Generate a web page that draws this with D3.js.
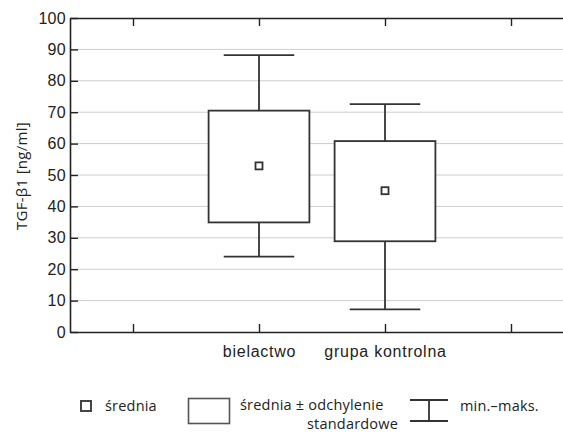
<!DOCTYPE html>
<html>
<head>
<meta charset="utf-8">
<script src="https://cdn.jsdelivr.net/npm/d3@7"></script>
<style>
  body { margin: 0; background: #fff; }
  svg { display: block; font-family: "Open Sans", sans-serif; }
  .grid line { stroke: #cdcdcd; stroke-width: 1; }
  .axis path, .axis line { stroke: #222; }
  .axis text { fill: #222; font-size: 16px; }
  .mark { fill: #fff; stroke: #333; stroke-width: 1.8; }
  .whisker { stroke: #333; stroke-width: 1.8; }
</style>
</head>
<body>
<svg width="563" height="432"></svg>
<script>
// values
const categories = ["bielactwo", "grupa kontrolna"];
const means   = [52.9, 45.0];
const sdLow   = [34.9, 28.9];
const sdHigh  = [70.5, 60.8];
const mins    = [24.0, 7.2];
const maxs    = [88.2, 72.6];
const yTicks  = [0, 10, 20, 30, 40, 50, 60, 70, 80, 90, 100];

// empty slots left and right of the groups
const slots = ["_l", ...categories, "_r"];

const svg = d3.select("svg");
const plotL = 70, plotT = 18, plotB = 332, plotR = 574;

const x = d3.scalePoint().domain(slots).range([plotL, plotR]).padding(0.5);
const y = d3.scaleLinear().domain([0, 100]).range([plotB, plotT]);
const step = x.step();

// grid
svg.append("g").attr("class", "grid")
  .selectAll("line")
  .data(yTicks.filter(d => d > 0 && d < 100))
  .enter().append("line")
  .attr("x1", plotL).attr("x2", plotR)
  .attr("y1", d => y(d)).attr("y2", d => y(d));

// axes, ticks pointing inwards
const yAxis = svg.append("g").attr("class", "axis")
  .attr("transform", `translate(${plotL},0)`)
  .call(d3.axisLeft(y).tickValues(yTicks).tickSizeInner(-8).tickSizeOuter(0).tickPadding(4));
yAxis.select(".domain").attr("stroke-width", 1.6);
yAxis.selectAll(".tick line").attr("stroke-width", 1.4);
yAxis.selectAll(".tick text").attr("letter-spacing", 0.3);

const xFmt = d => categories.includes(d) ? d : "";
const xAxis = svg.append("g").attr("class", "axis")
  .attr("transform", `translate(0,${plotB})`)
  .call(d3.axisBottom(x).tickSizeInner(-8).tickSizeOuter(0).tickPadding(14).tickFormat(xFmt));
xAxis.select(".domain").attr("stroke-width", 1.6);
xAxis.selectAll(".tick line").attr("stroke-width", 1.4);
xAxis.selectAll(".tick text").attr("letter-spacing", 0.75);

const xTop = svg.append("g").attr("class", "axis")
  .attr("transform", `translate(0,${plotT})`)
  .call(d3.axisTop(x).tickSizeInner(-8).tickSizeOuter(0).tickFormat(""));
xTop.select(".domain").attr("stroke-width", 1.6);
xTop.selectAll(".tick line").attr("stroke-width", 1.4);

// y label
svg.append("text")
  .attr("transform", `translate(27,176) rotate(-90)`)
  .attr("text-anchor", "middle")
  .attr("font-size", 15)
  .attr("letter-spacing", 0.3)
  .attr("fill", "#222")
  .text("TGF-β1 [ng/ml]");

// boxes and whiskers
const boxW = step * 0.8, capW = step * 0.56;
const groups = svg.append("g").selectAll("g")
  .data(categories)
  .enter().append("g");

groups.append("line").attr("class", "whisker")
  .attr("x1", d => x(d)).attr("x2", d => x(d))
  .attr("y1", (d, i) => y(maxs[i])).attr("y2", (d, i) => y(mins[i]));
groups.append("line").attr("class", "whisker")
  .attr("x1", d => x(d) - capW / 2).attr("x2", d => x(d) + capW / 2)
  .attr("y1", (d, i) => y(maxs[i])).attr("y2", (d, i) => y(maxs[i]));
groups.append("line").attr("class", "whisker")
  .attr("x1", d => x(d) - capW / 2).attr("x2", d => x(d) + capW / 2)
  .attr("y1", (d, i) => y(mins[i])).attr("y2", (d, i) => y(mins[i]));
groups.append("rect").attr("class", "mark")
  .attr("x", d => x(d) - boxW / 2).attr("width", boxW)
  .attr("y", (d, i) => y(sdHigh[i]))
  .attr("height", (d, i) => y(sdLow[i]) - y(sdHigh[i]));
groups.append("rect").attr("class", "mark")
  .attr("x", d => x(d) - 3.5).attr("width", 7)
  .attr("y", (d, i) => y(means[i]) - 3.5).attr("height", 7)
  .attr("stroke-width", 1.6);

// legend
const lg = svg.append("g").attr("font-size", 14.5).attr("fill", "#222").attr("letter-spacing", 0.2);
lg.append("rect").attr("x", 81).attr("y", 401).attr("width", 10).attr("height", 10)
  .attr("fill", "#fff").attr("stroke", "#444").attr("stroke-width", 2);
lg.append("text").attr("x", 105).attr("y", 411).text("średnia");
lg.append("rect").attr("x", 188.5).attr("y", 398.5).attr("width", 41).attr("height", 25)
  .attr("fill", "#fff").attr("stroke", "#555").attr("stroke-width", 1.6);
lg.append("text").attr("x", 240).attr("y", 410).text("średnia ± odchylenie");
lg.append("text").attr("x", 307).attr("y", 429).text("standardowe");
lg.append("line").attr("class", "whisker").attr("x1", 410).attr("x2", 448).attr("y1", 400).attr("y2", 400);
lg.append("line").attr("class", "whisker").attr("x1", 410).attr("x2", 448).attr("y1", 421).attr("y2", 421);
lg.append("line").attr("class", "whisker").attr("x1", 429).attr("x2", 429).attr("y1", 400).attr("y2", 421);
lg.append("text").attr("x", 460).attr("y", 411).text("min.–maks.");
</script>
</body>
</html>
